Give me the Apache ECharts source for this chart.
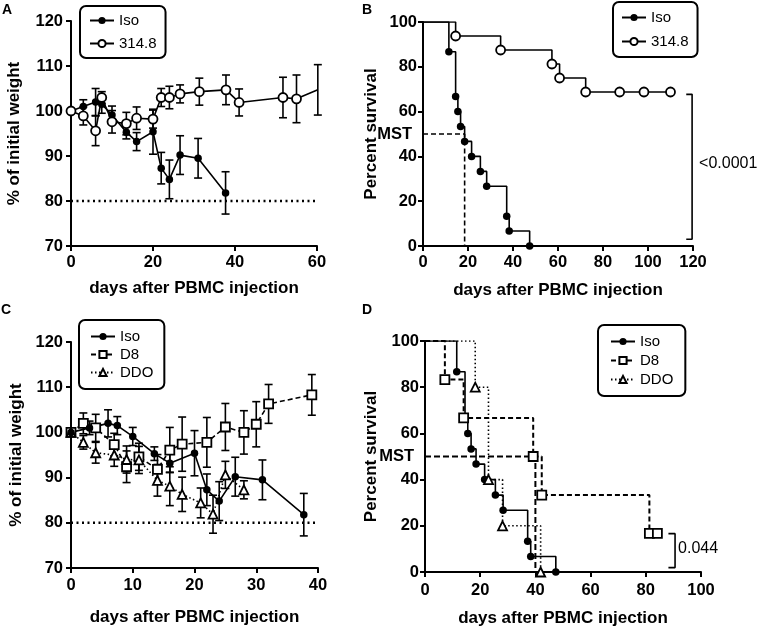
<!DOCTYPE html>
<html><head><meta charset="utf-8">
<script src="https://cdn.jsdelivr.net/npm/echarts@6/dist/echarts.min.js"></script>
<style>html,body{margin:0;padding:0;background:#fff}#c{width:767px;height:633px}</style>
</head><body><div id="c"></div>
<script>
// ---------- Panel A: weight, Iso vs 314.8 ----------
const aIsoDays = [0, 3, 6, 7.5, 10, 13.5, 16, 20, 22, 24, 26.6, 31, 37.7];
const aIsoMean = [100, 101, 102, 101.5, 99.1, 95.3, 93.2, 95.4, 87.3, 84.8, 90.2, 89.5, 81.8];
const aIsoErr  = [0, 1.5, 3, 2, 2, 1.5, 2, 5, 3.5, 4.3, 4.3, 4.4, 4.7];
const a314Days = [0, 3, 6, 7.5, 10, 13.5, 16, 20, 22, 24, 26.6, 31.3, 37.8, 41, 51.7, 55, 60.2];
const a314Mean = [100, 98.9, 95.6, 103, 97.6, 97.2, 98.4, 98.2, 103, 103, 103.8, 104.3, 104.7, 101.9, 103, 102.7, 104.7];
const a314Err  = [0, 2, 3.3, 1.3, 2.5, 2.5, 2.5, 2, 2, 2.5, 2, 3, 3.3, 3, 4.5, 5.3, 5.6];

// ---------- Panel C: weight, Iso vs D8 vs DDO ----------
const cD8Days  = [0, 2, 4, 7, 9, 11, 14, 16, 18, 22, 25, 28, 30, 32, 39];
const cD8Mean  = [100, 102, 101, 97.3, 92.4, 94.6, 91.8, 96.1, 97.4, 97.8, 101.2, 100, 101.8, 106.3, 108.3];
const cD8Err   = [0, 2.3, 3, 2.5, 3.5, 3, 3.3, 5, 6, 5.5, 5.2, 4.8, 5, 4.3, 4.5];
const cDDODays = [0, 2, 4, 7, 9, 11, 14, 16, 18, 21, 23, 25, 28];
const cDDOMean = [100, 97.8, 95.5, 95, 94, 93.9, 89.4, 88.1, 86.3, 84.4, 81.9, 90.6, 87.3];
const cDDOErr  = [0, 1.5, 2.3, 2.5, 3, 3, 3.5, 4.3, 3.8, 3.3, 4.2, 3, 2];

// ---------- Survival (B and D) ----------
const sIsoDays = [0, 11.5, 14.5, 15.5, 16.7, 18.5, 21.6, 25.5, 28.3, 37.2, 38.3, 47.4];
const sIsoPct  = [100, 86.7, 66.7, 60, 53.3, 46.7, 40, 33.3, 26.7, 13.3, 6.7, 0];
const s314Days = [0, 14.5, 34.5, 57.3, 60.7, 72.3, 87.4, 98.2, 110];
const s314Pct  = [100, 93.75, 87.5, 81.25, 75, 68.75, 68.75, 68.75, 68.75];
const sD8Days  = [0, 7.2, 14, 39.2, 42.3, 81.3, 84.2];
const sD8Pct   = [100, 83.3, 66.7, 50, 33.3, 16.7, 16.7];
const sDDODays = [0, 18.2, 23, 28.1, 41.9];
const sDDOPct  = [100, 80, 40, 20, 0];

const mstB = 18.5, mstD = 40;
const pB = '<0.0001', pD = '0.044';
const xTitle = 'days after PBMC injection';
const yWeight = '% of initial weight';
const ySurv = 'Percent survival';

const FONT = "'Liberation Sans', Arial, Helvetica, sans-serif";
const K = '#000';

function xAx(gi, max, interval, nameGap, margin) {
  return {type:'value', gridIndex:gi, min:0, max, interval, name:xTitle, nameLocation:'middle', nameGap,
    nameTextStyle:{fontFamily:FONT, fontSize:17, fontWeight:'bold', color:K},
    axisLine:{onZero:false, lineStyle:{color:K, width:2}}, axisTick:{length:5, lineStyle:{color:K, width:2}},
    axisLabel:{margin, fontFamily:FONT, fontSize:16.5, fontWeight:'bold', color:K}, splitLine:{show:false}};
}
function yAx(gi, min, max, interval, name, nameGap, margin) {
  return {type:'value', gridIndex:gi, min, max, interval, name, nameLocation:'middle', nameGap,
    nameTextStyle:{fontFamily:FONT, fontSize:17, fontWeight:'bold', color:K},
    axisLine:{onZero:false, lineStyle:{color:K, width:2}}, axisTick:{length:5, lineStyle:{color:K, width:2}},
    axisLabel:{margin, fontFamily:FONT, fontSize:16.5, fontWeight:'bold', color:K}, splitLine:{show:false}};
}

const SYM = {
  iso:  {symbol:'circle', symbolSize:7.5, itemStyle:{color:K}, lineType:'solid'},
  t314: {symbol:'circle', symbolSize:9, itemStyle:{color:'#fff', borderColor:K, borderWidth:1.8}, lineType:'solid'},
  d8:   {symbol:'rect', symbolSize:9, itemStyle:{color:'#fff', borderColor:K, borderWidth:1.8}, lineType:[5,3]},
  ddo:  {symbol:'triangle', symbolSize:9, itemStyle:{color:'#fff', borderColor:K, borderWidth:1.8}, lineType:[1.5,2.5]}
};

function wLine(name, gi, days, vals, s) {
  return {type:'line', name, xAxisIndex:gi, yAxisIndex:gi, data:days.map((d,i)=>[d, vals[i]]),
    symbol:s.symbol, symbolSize:s.symbolSize, itemStyle:s.itemStyle,
    lineStyle:{color:K, width:1.6, type:s.lineType}, z:4, animation:false};
}
function errS(gi, days, mean, err) {
  const data = [];
  days.forEach((d,i)=>{ if (err[i] > 0) data.push([d, mean[i]-err[i], mean[i]+err[i]]); });
  return {type:'custom', name:'err', xAxisIndex:gi, yAxisIndex:gi, data, z:2, silent:true,
    encode:{x:0, y:[1,2]},
    renderItem:(p, api)=>{
      const x = api.value(0);
      const lo = api.coord([x, api.value(1)]), hi = api.coord([x, api.value(2)]);
      const hw = 4, st = {stroke:K, lineWidth:1.6};
      return {type:'group', children:[
        {type:'line', shape:{x1:lo[0], y1:lo[1], x2:hi[0], y2:hi[1]}, style:st},
        {type:'line', shape:{x1:hi[0]-hw, y1:hi[1], x2:hi[0]+hw, y2:hi[1]}, style:st},
        {type:'line', shape:{x1:lo[0]-hw, y1:lo[1], x2:lo[0]+hw, y2:lo[1]}, style:st}
      ]};
    }};
}
function kmLine(name, gi, days, vals, s, w) {
  return {type:'line', name, step:'end', xAxisIndex:gi, yAxisIndex:gi,
    data:days.map((d,i)=> i === 0 ? {value:[d, vals[i]], symbol:'none'} : [d, vals[i]]),
    symbol:s.symbol, symbolSize:s.symbolSize, itemStyle:s.itemStyle,
    lineStyle:{color:K, width:w || 1.6, type:s.lineType}, z:4, animation:false};
}
function plainLine(gi, pts, type, width) {
  return {type:'line', xAxisIndex:gi, yAxisIndex:gi, data:pts, symbol:'none', silent:true,
    lineStyle:{color:K, width, type}, z:3, animation:false};
}

const legBase = {orient:'vertical', itemWidth:24, itemHeight:9, borderColor:K, borderWidth:2, borderRadius:6,
  selectedMode:false, textStyle:{fontFamily:FONT, fontSize:15, color:K}};

const option = {
  animation:false,
  backgroundColor:'#fff',
  grid:[
    {left:71, top:21, width:246, height:225},
    {left:423, top:22, width:270, height:224},
    {left:71, top:342, width:247, height:226},
    {left:425, top:341, width:276, height:231}
  ],
  xAxis:[xAx(0, 60, 20, 34, 8), xAx(1, 120, 20, 36, 8), xAx(2, 40, 10, 41, 9), xAx(3, 100, 20, 38, 10)],
  yAxis:[yAx(0, 70, 120, 10, yWeight, 48, 8), yAx(1, 0, 100, 20, ySurv, 43, 6),
         yAx(2, 70, 120, 10, yWeight, 46, 8), yAx(3, 0, 100, 20, ySurv, 45, 6)],
  legend:[
    Object.assign({}, legBase, {left:80, top:6, data:['Iso','314.8'], itemGap:8, padding:[7,9,7,9]}),
    Object.assign({}, legBase, {left:613, top:2, data:['Iso','314.8'], itemGap:9, padding:[8,9,8,8]}),
    Object.assign({}, legBase, {left:79, top:320, data:['Iso','D8','DDO'], itemGap:3, padding:[9,11,9,11]}),
    Object.assign({}, legBase, {left:598, top:325, data:['Iso','D8','DDO'], itemGap:4, padding:[9,12,9,12]})
  ],
  series:[
    // A
    wLine('Iso', 0, aIsoDays, aIsoMean, SYM.iso),
    wLine('314.8', 0, a314Days, a314Mean, SYM.t314),
    errS(0, aIsoDays, aIsoMean, aIsoErr),
    errS(0, a314Days, a314Mean, a314Err),
    plainLine(0, [[0,80],[60,80]], [2,3.5], 2.5),
    // C
    wLine('D8', 2, cD8Days, cD8Mean, SYM.d8),
    wLine('DDO', 2, cDDODays, cDDOMean, SYM.ddo),
    wLine('Iso', 2, aIsoDays, aIsoMean, SYM.iso),
    errS(2, aIsoDays, aIsoMean, aIsoErr),
    errS(2, cD8Days, cD8Mean, cD8Err),
    errS(2, cDDODays, cDDOMean, cDDOErr),
    plainLine(2, [[0,80],[40,80]], [2,3.5], 2.5),
    // B
    kmLine('Iso', 1, sIsoDays, sIsoPct, SYM.iso),
    kmLine('314.8', 1, s314Days, s314Pct, SYM.t314),
    plainLine(1, [[0,50],[mstB,50],[mstB,0]], [5,3], 1.6),
    plainLine(1, [[117,67.7],[119.6,67.7],[119.6,3],[117,3]], 'solid', 1.6),
    // D
    kmLine('Iso', 3, sIsoDays, sIsoPct, SYM.iso),
    kmLine('D8', 3, sD8Days, sD8Pct, SYM.d8, 2),
    kmLine('DDO', 3, sDDODays, sDDOPct, SYM.ddo),
    plainLine(3, [[0,50],[mstD,50],[mstD,0]], [6,3], 2),
    plainLine(3, [[88.2,16.6],[90.6,16.6],[90.6,1.9],[88.2,1.9]], 'solid', 1.6)
  ]
};
const chart = echarts.init(document.getElementById('c'), null, {renderer:'canvas'});
chart.setOption(option);

// annotation texts placed through the axes' own scales
const mB = chart.convertToPixel({gridIndex:1}, [0, 50]);
const mD = chart.convertToPixel({gridIndex:3}, [0, 50]);
const tB = chart.convertToPixel({gridIndex:1}, [119.6, 36.9]);
const tD = chart.convertToPixel({gridIndex:3}, [90.6, 10]);
function txt(x, y, s, align, bold, size) {
  return {type:'text', x, y, style:{text:s, fill:K, font:(bold?'bold ':'')+size+'px '+FONT,
    textAlign:align, textVerticalAlign:'middle'}, z:10};
}
chart.setOption({graphic:[
  {type:'text', left:2, top:3, style:{text:'A', font:'bold 14px '+FONT, fill:K}},
  {type:'text', left:362, top:3, style:{text:'B', font:'bold 14px '+FONT, fill:K}},
  {type:'text', left:1, top:303, style:{text:'C', font:'bold 14px '+FONT, fill:K}},
  {type:'text', left:362, top:303, style:{text:'D', font:'bold 14px '+FONT, fill:K}},
  txt(mB[0]-11, mB[1], 'MST', 'right', true, 16.5),
  txt(mD[0]-11, mD[1], 'MST', 'right', true, 16.5),
  txt(tB[0]+7, tB[1], pB, 'left', false, 16),
  txt(tD[0]+3, tD[1], pD, 'left', false, 16)
]});
</script></body></html>
